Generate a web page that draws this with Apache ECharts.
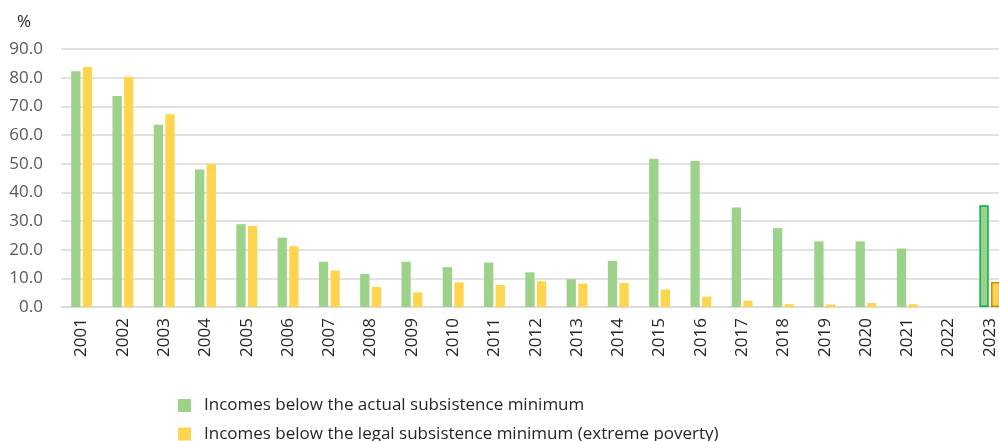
<!DOCTYPE html>
<html>
<head>
<meta charset="utf-8">
<script src="https://cdn.jsdelivr.net/npm/echarts@6/dist/echarts.min.js"></script>
<style>
html,body{margin:0;padding:0;background:#fff;}
#c{width:999px;height:441px;}
</style>
</head>
<body>
<div id="c"></div>
<script>
var years = ['2001','2002','2003','2004','2005','2006','2007','2008','2009','2010','2011','2012','2013','2014','2015','2016','2017','2018','2019','2020','2021','2022','2023'];
var actualMinimum = [82.2,73.6,63.6,48.0,28.9,24.2,15.8,11.5,15.8,13.9,15.5,12.1,9.7,16.1,51.7,50.9,34.7,27.5,22.9,22.9,20.4,null,35.5];
var legalMinimum = [83.7,80.3,67.2,49.8,28.3,21.2,12.7,7.0,5.1,8.6,7.7,9.0,8.2,8.4,6.1,3.6,2.2,1.0,0.9,1.4,1.0,null,8.7];
var seriesNames = ['Incomes below the actual subsistence minimum','Incomes below the legal subsistence minimum (extreme poverty)'];
var yTicks = [0,10,20,30,40,50,60,70,80,90];

var green = '#9DD28A', yellow = '#FFD54F';
function mark(arr, border) {
  return arr.map(function (v, i) {
    if (years[i] === '2023' && v != null) {
      return { value: v, itemStyle: { borderColor: border, borderWidth: 1.5 } };
    }
    return v;
  });
}

var chart = echarts.init(document.getElementById('c'), null, {renderer: 'canvas'});
chart.setOption({
  animation: false,
  backgroundColor: '#fff',
  title: {
    text: '%', left: 17, top: 14, padding: 0,
    textStyle: { fontFamily: 'Open Sans', fontSize: 17, fontWeight: 'normal', color: '#262626' }
  },
  grid: { left: 61, right: -11.5, top: 49, bottom: 134, outerBoundsMode: 'none', containLabel: false },
  legend: {
    orient: 'vertical', left: 178, top: 397, height: 80, padding: 0,
    icon: 'rect', itemWidth: 13, itemHeight: 13, itemGap: 11.5,
    textStyle: { fontFamily: 'Open Sans', fontSize: 17, color: '#262626', lineHeight: 17, padding: [0, 0, 0, 8] },
    data: seriesNames
  },
  xAxis: {
    type: 'category', data: years,
    axisLine: { lineStyle: { color: '#D9D9D9', width: 1.5 } },
    axisTick: { show: false },
    axisLabel: { rotate: 90, margin: 11, fontFamily: 'Open Sans', fontSize: 17, color: '#262626', interval: 0 }
  },
  yAxis: {
    type: 'value', min: yTicks[0], max: yTicks[yTicks.length - 1], interval: 10,
    axisLine: { show: false }, axisTick: { show: false },
    splitLine: { lineStyle: { color: '#D9D9D9', width: 1.5 } },
    axisLabel: { fontFamily: 'Open Sans', fontSize: 17, color: '#595959', margin: 18,
      formatter: function (v) { return v.toFixed(1); } }
  },
  series: [
    { name: seriesNames[0], type: 'bar', data: mark(actualMinimum, '#00B050'),
      barWidth: 9.3, barGap: '25%', itemStyle: { color: green } },
    { name: seriesNames[1], type: 'bar', data: mark(legalMinimum, '#BF9000'),
      barWidth: 9.3, barGap: '25%', itemStyle: { color: yellow } }
  ]
});
</script>
</body>
</html>
